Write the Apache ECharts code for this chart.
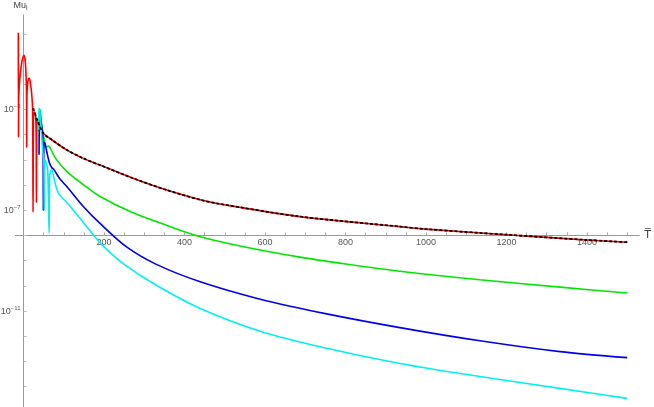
<!DOCTYPE html>
<html>
<head>
<meta charset="utf-8">
<script src="https://cdn.jsdelivr.net/npm/echarts@6/dist/echarts.min.js"></script>
<style>
  html, body { margin: 0; padding: 0; background: #fff; }
  #chart { width: 654px; height: 407px; }
</style>
</head>
<body>
<div id="chart"></div>
<script>
// tick positions
var xTicks = [50,100,150,200,250,300,350,400,450,500,550,600,650,700,750,800,850,900,950,1000,1050,1100,1150,1200,1250,1300,1350,1400,1450,1500];
var xLabels = [200,400,600,800,1000,1200,1400];
var yTicks = [-14,-13,-12,-11,-10,-9,-8,-7,-6,-5,-4,-3,-2,-1,0]; // decades
var yLabels = [-11,-7,-3];

// red: early oscillations, then the same tail as the black dashed curve
var redT  = [-13,-12.6,-12,-10,-6,-2,1.2,4,6,7.4,7.8,8.3,10,12,14.4,17,20,22.5,23.6,24.8,28,31,32,33];
var redMu = [1.1,7.9e-5,2.5e-3,1.26e-2,5.0e-2,0.112,0.141,8.9e-2,2.5e-2,4.0e-3,3.2e-5,3.2e-3,1.0e-2,1.58e-2,1.74e-2,1.12e-2,4.5e-3,1.0e-3,8.5e-8,6.3e-4,7.9e-4,2.5e-4,2.1e-7,3.2e-4];

var blackT  = [35,49,70,107,150,190,272,356,439,488,687,935,1000,1200,1400,1500];
var blackMu = [3.5e-4,1.15e-4,6.3e-5,2.5e-5,1.12e-5,6.2e-6,1.86e-6,6.3e-7,2.6e-7,1.78e-7,5.6e-8,2.24e-8,1.78e-8,1.07e-8,6.6e-9,5.4e-9];

var greenT  = [36.8,38,40,41.5,44,48,52,57,62,67,80,107,150,190,272,356,439,550,687,800,935,1134,1333,1500];
var greenMu = [1.41e-4,5.0e-4,1.0e-3,8.9e-4,3.2e-4,1.26e-4,5.6e-5,3.3e-5,3.5e-5,2.8e-5,1.12e-5,3.5e-6,1.0e-6,3.5e-7,7.9e-8,2.5e-8,8.9e-9,3.5e-9,1.38e-9,7.4e-10,3.8e-10,1.74e-10,8.9e-11,5.2e-11];

var blueT  = [38.5,39.3,41,43,46,48.5,49.2,50.5,52,58,64,70,76,90,107,149,190,256,330,439,588,750,935,1134,1333,1500];
var blueMu = [1.58e-5,2.5e-4,7.1e-4,4.0e-4,1.58e-4,5.0e-5,1.0e-7,4.0e-5,5.0e-5,2.0e-5,7.9e-6,5.0e-6,4.0e-6,1.78e-6,8.9e-7,1.38e-7,3.0e-8,3.5e-9,7.1e-10,1.45e-10,2.95e-11,7.9e-12,2.2e-12,6.6e-13,2.45e-13,1.41e-13];

var cyanT  = [37.5,38.5,39.5,41,43,47,50.5,51.5,52.5,56,60,63.5,65,70,78,87,111,149,172,200,250,330,439,588,750,935,1134,1333,1500];
var cyanMu = [1.58e-4,1.0e-3,1.12e-3,6.3e-4,2.5e-4,3.2e-5,7.9e-6,1.0e-7,1.0e-5,7.9e-6,4.0e-6,1.26e-8,2.5e-6,4.0e-6,1.26e-6,4.7e-7,1.78e-7,3.2e-8,1.12e-8,3.5e-9,7.1e-10,1.05e-10,1.26e-11,1.58e-12,3.4e-13,8.3e-14,2.5e-14,8.5e-15,3.4e-15];

// plotted on a log10 scale
function pts(ts, vs) {
    return ts.map(function (t, i) { return [t, Math.log10(vs[i])]; });
}

var chart = echarts.init(document.getElementById('chart'));
var font = 'Liberation Sans, Arial, sans-serif';

function curve(name, data, color, width, extra) {
    var s = {
        name: name,
        type: 'line',
        data: data,
        showSymbol: false,
        smooth: 0.3,
        lineStyle: {color: color, width: width}
    };
    for (var k in extra) s[k] = extra[k];
    return s;
}

var option = {
    animation: false,
    grid: {
        left: 15.5,
        right: 14.7,
        top: 15,
        bottom: -4.8,
        containLabel: false,
        outerBoundsMode: 'none'
    },
    xAxis: {
        type: 'value',
        min: -20,
        max: 1530,
        offset: -176.4, // axis crosses at 10^-8
        splitLine: {show: false},
        axisLine: {onZero: false, lineStyle: {color: '#999', width: 1}},
        axisTick: {inside: true, length: 3, customValues: xTicks, lineStyle: {color: '#aaa'}},
        axisLabel: {
            customValues: xLabels, color: '#555', fontSize: 9, margin: 3, fontFamily: font,
            formatter: function (v) { return String(v); }
        },
        name: 'T\u0305',
        nameLocation: 'end',
        nameGap: 5,
        nameTextStyle: {color: '#444', fontSize: 11, fontFamily: 'DejaVu Sans'}
    },
    yAxis: {
        type: 'value',
        min: -15,
        max: 0.75,
        splitLine: {show: false},
        axisLine: {onZero: true, lineStyle: {color: '#999', width: 1}},
        axisTick: {inside: true, length: 3, customValues: yTicks, lineStyle: {color: '#bbb'}},
        axisLabel: {
            customValues: yLabels,
            margin: -5, // labels sit at the grid edge, pull them up to the axis
            align: 'right',
            color: '#555',
            fontSize: 9,
            fontFamily: font,
            formatter: function (v) {
                return '{b|10}{s|\u2212' + Math.abs(v) + '}';
            },
            rich: {
                b: {fontSize: 9, color: '#555', fontFamily: font, lineHeight: 12},
                s: {fontSize: 6, color: '#555', fontFamily: font, lineHeight: 7, verticalAlign: 'top'}
            }
        },
        name: '{m|Mu}{i|i}',
        nameLocation: 'end',
        nameGap: 3,
        nameTextStyle: {
            align: 'center',
            padding: [0, 6, 0, 0],
            rich: {
                m: {fontSize: 9, color: '#444', fontFamily: font, lineHeight: 12},
                i: {fontSize: 7, color: '#444', fontFamily: font, lineHeight: 7, verticalAlign: 'bottom'}
            }
        }
    },
    series: [
        curve('red', pts(redT.concat(blackT), redMu.concat(blackMu)), '#ff0000', 1.6),
        curve('green', pts(greenT, greenMu), '#00e600', 1.6),
        curve('blue', pts(blueT, blueMu), '#0000ee', 1.6),
        curve('cyan', pts(cyanT, cyanMu), '#00f0f0', 1.6),
        curve('black', pts([24].concat(blackT), [1.12e-3].concat(blackMu)), '#000', 1.8, {z: 5}),
    ]
};
option.series[4].lineStyle.type = [3, 2];
chart.setOption(option);
</script>
</body>
</html>
